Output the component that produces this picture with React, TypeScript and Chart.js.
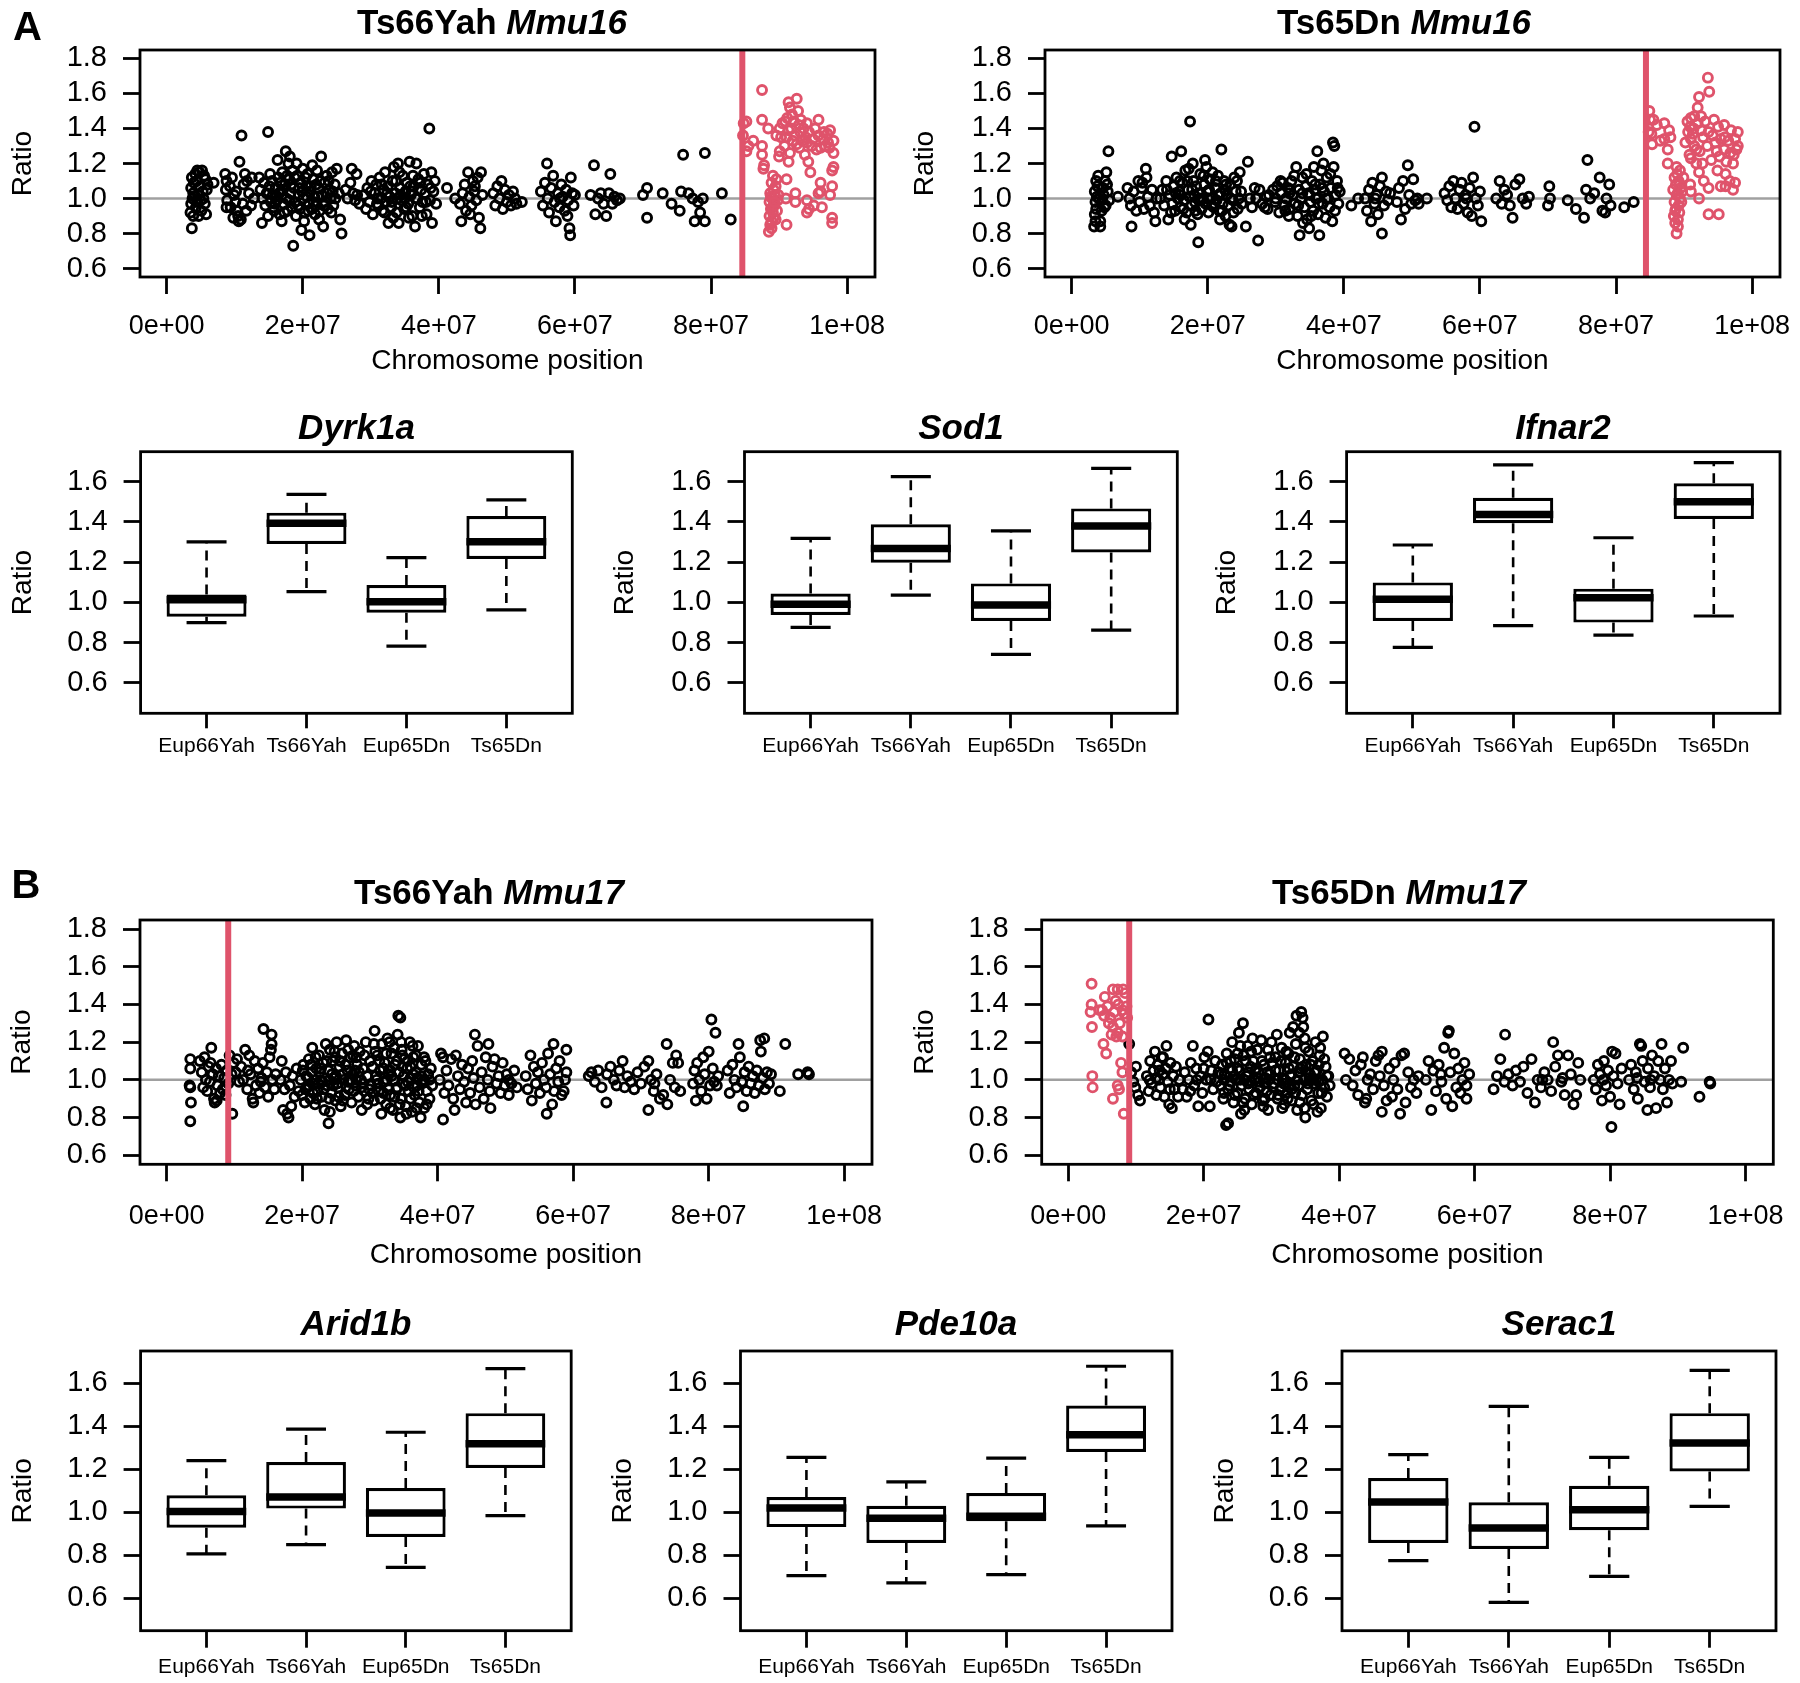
import React, { useEffect, useRef } from "react";
import { Chart, registerables } from "chart.js";
Chart.register(...registerables);

const FONT = "'Liberation Sans', Arial, Helvetica, sans-serif";
const RED = "#DF536B";

// ---------- axis ticks ----------
const posTicks = [0, 20, 40, 60, 80, 100]; // Mb
const posTickLabels = ["0e+00", "2e+07", "4e+07", "6e+07", "8e+07", "1e+08"];
const scatterRatioTicks = [0.6, 0.8, 1.0, 1.2, 1.4, 1.6, 1.8];
const boxRatioTicks = [0.6, 0.8, 1.0, 1.2, 1.4, 1.6];
const groups = ["Eup66Yah", "Ts66Yah", "Eup65Dn", "Ts65Dn"];

// ---------- trisomic region boundaries (Mb) ----------
const cutTs66Mmu16 = 84.6;
const cutTs65Mmu16 = 84.4;
const cutTs66Mmu17 = 9.1;
const cutTs65Mmu17 = 9.0;

// ---------- scatter data: [position Mb, ratio] ----------
const ts66Mmu16Black: [number, number][] = [
  [3.7,0.83],[3.5,0.92],[3.6,0.97],[3.8,1.0],[3.9,1.03],[3.6,1.06],[4.0,1.09],[3.7,1.12],[4.2,1.14],[4.5,1.16],[4.8,1.15],[5.2,1.16],[5.5,1.13],[4.4,1.1],[4.9,1.07],[5.3,1.04],[4.6,1.02],[5.0,0.99],[5.6,0.97],[4.3,0.95],[5.1,0.93],[5.8,0.91],[4.7,0.9],[5.4,1.0],[4.1,1.01],[5.9,1.05],[6.0,1.08],[4.5,0.98],[5.7,1.11],[3.9,0.9],
  [6.9,1.09],
  [8.6,1.14],[8.8,1.1],[8.7,1.05],[8.9,0.99],[8.8,0.95],[9.3,1.07],[9.6,1.12],[9.9,1.02],[10.1,0.98],[10.3,0.93],[10.5,0.9],[10.6,0.87],[10.9,0.88],[11.2,0.97],[11.0,1.36],[10.7,1.21],[11.5,1.14],[11.8,1.1],[12.1,1.03],[12.4,0.96],[11.3,1.08],[9.4,0.95],[10.2,1.04],[12.5,1.12],[11.7,0.93],[9.8,0.89],[12.8,1.0],
  [14.9,1.38],
  [13.6,1.12],[13.8,1.05],[14.0,0.86],[14.1,1.0],[14.3,1.09],[14.5,0.96],[14.7,1.03],[14.9,0.9],[15.1,1.07],[15.3,0.98],[15.5,1.1],[15.6,1.02],[15.8,0.93],[16.0,1.06],[16.3,1.22],[16.2,0.99],[16.4,1.12],[16.6,0.91],[16.8,1.04],[17.0,1.15],[17.2,0.97],[17.5,1.27],[17.4,1.08],[17.6,1.0],[17.8,0.93],[18.0,1.11],[18.1,1.24],[18.2,1.03],[18.4,0.95],[18.6,0.73],[18.5,1.16],[18.7,1.06],[18.9,0.98],[19.0,0.9],[19.2,1.13],[19.4,1.02],[19.6,0.94],[19.8,0.82],[19.7,1.09],[20.0,1.17],[20.1,1.0],[20.3,0.92],[20.5,1.07],[20.7,1.14],[20.9,0.97],[21.0,0.79],[21.1,1.04],[21.3,0.94],[21.5,1.11],[21.7,1.01],[21.9,0.96],[22.1,1.16],[22.3,1.06],[22.5,0.93],[22.7,1.24],[22.8,1.02],[23.0,0.84],[23.2,1.09],[23.3,0.98],[23.5,1.13],[23.7,0.94],[23.9,1.05],[24.1,1.0],[24.3,1.15],[24.5,0.96],[24.7,1.08],[25.0,1.17],[25.5,0.88],[25.7,0.8],[25.3,1.03],[19.5,1.06],[17.1,1.05],[15.9,0.97],[22.0,1.08],[20.6,1.01],[18.3,1.08],[16.5,1.03],[23.6,1.03],[21.8,0.91],[24.4,1.04],
  [15.2,1.14],[15.7,0.95],[16.1,1.01],[16.7,1.09],[17.3,0.92],[17.7,1.13],[18.0,0.99],[18.8,1.12],[19.3,0.96],[19.9,1.04],[20.4,1.12],[20.8,0.93],[21.2,1.07],[21.6,0.98],[22.2,1.01],[22.6,1.1],[23.1,0.96],[23.8,1.1],[24.2,0.92],[24.8,1.0],[17.9,1.2],[19.1,1.2],[21.4,1.19],[16.9,0.87],[20.2,0.87],[22.4,0.88],
  [26.3,1.05],[26.6,1.0],[27.0,1.09],[27.2,1.17],[27.4,1.03],[27.7,0.99],[28.0,1.02],[28.3,0.97],[27.9,1.14],
  [29.0,1.02],[29.3,0.94],[29.5,1.06],[29.8,0.98],[30.1,1.1],[30.3,0.91],[30.6,1.03],[30.8,1.08],[31.1,0.96],[31.3,1.12],[31.5,1.0],[31.7,0.93],[31.9,1.05],[32.1,1.15],[32.3,0.98],[32.6,0.86],[32.5,1.07],[32.8,1.01],[33.0,0.95],[33.2,1.1],[33.4,1.18],[33.6,1.03],[33.8,0.92],[34.0,1.2],[34.1,0.86],[34.3,1.06],[34.5,0.99],[34.7,1.13],[34.9,0.94],[35.1,1.04],[35.3,1.09],[35.5,0.97],[35.7,1.21],[35.9,1.02],[36.1,0.9],[36.3,1.07],[36.5,0.84],[36.7,1.2],[36.8,1.0],[37.0,1.11],[37.2,0.95],[37.4,1.05],[37.6,0.98],[37.8,1.14],[38.0,1.03],[38.2,0.91],[38.4,1.08],[38.6,1.4],[38.7,0.99],[38.9,1.15],[39.0,0.86],[39.2,1.04],[39.4,1.1],[39.6,0.97],[33.9,1.0],[31.0,1.0],[35.0,1.0],[36.0,1.04],[32.0,0.92],
  [30.0,1.04],[30.9,0.97],[31.6,1.08],[32.4,1.03],[33.1,0.98],[33.7,1.1],[34.4,1.02],[35.2,0.95],[35.8,1.07],[36.6,1.0],[37.3,1.09],[38.1,0.98],[38.8,1.06],[34.2,1.15],[36.2,1.13],[37.5,0.9],[33.3,0.89],[35.6,0.89],
  [41.2,1.06],[42.4,1.0],
  [43.1,0.97],[43.3,0.87],[43.5,1.03],[43.8,1.08],[44.0,0.93],[44.3,1.15],[44.5,1.01],[44.8,0.96],[45.0,1.1],[45.2,1.04],[45.5,0.99],[45.7,1.12],[45.9,0.89],[46.1,0.83],[46.2,1.15],[46.4,1.02],[44.6,0.91],[45.3,1.07],
  [48.0,1.03],[48.3,0.96],[48.6,1.07],[48.9,1.0],[49.2,1.1],[49.4,0.94],[49.7,1.05],[50.0,0.98],[50.3,1.02],[50.6,0.96],[50.9,1.04],[51.2,1.0],[51.4,0.97],
  [52.2,0.98],
  [55.0,1.04],[55.3,0.96],[55.6,1.09],[55.9,1.2],[56.0,1.0],[56.2,0.92],[56.5,1.06],[56.8,1.13],[57.0,0.98],[57.2,0.87],[57.5,1.03],[57.7,0.95],[58.0,1.08],[58.2,1.01],[58.5,0.93],[58.7,1.05],[59.0,0.99],[59.2,0.83],[59.3,0.79],[59.4,1.12],[59.6,1.03],[59.8,0.96],[60.0,1.02],[58.9,0.9],[57.8,1.0],
  [62.3,1.02],[62.8,1.19],[63.0,0.91],[63.4,1.0],[63.8,1.03],[64.2,0.97],[64.6,0.9],[65.0,1.03],[65.2,1.14],[65.5,0.97],[65.8,1.01],[66.2,0.99],[66.6,1.0],
  [70.0,1.02],[70.6,1.06],[70.6,0.89],[72.9,1.03],[74.2,0.97],[75.4,0.93],[75.6,1.04],[75.9,1.25],[76.7,1.03],[77.3,1.0],[77.6,0.87],[78.1,0.98],[78.4,0.92],[78.8,1.0],[79.1,1.26],[79.1,0.87],[81.6,1.03],[82.9,0.88],
];
const ts66Mmu16Red: [number, number][] = [
  [84.8,1.43],[85.2,1.44],[84.7,1.36],[85.2,1.27],[85.5,1.3],[86.2,1.33],[87.5,1.62],[87.5,1.45],[87.5,1.3],[87.5,1.25],[87.8,1.19],[87.7,1.17],[88.4,1.4],
  [88.5,0.81],[88.7,0.85],[88.9,0.87],[88.6,0.9],[89.1,0.92],[88.8,0.94],[89.3,0.96],[88.6,0.98],[89.0,1.0],[89.4,1.02],[88.7,1.03],[89.2,1.05],[89.5,1.07],[88.9,1.09],[89.6,1.11],[89.8,0.99],[89.0,0.95],[88.8,1.01],[89.7,0.93],[89.2,0.89],[88.9,0.83],[89.1,1.13],[89.9,1.02],[89.3,0.98],[89.5,0.88],
  [89.6,1.36],[90.1,1.27],[90.0,1.24],[90.5,1.43],[90.1,1.4],[91.1,1.35],[91.4,1.55],[91.6,1.52],[91.9,1.48],[91.4,1.21],[91.6,1.26],[91.4,1.39],[92.6,1.57],[92.6,1.31],[92.2,1.44],[92.9,1.42],[93.1,1.38],[93.4,1.33],[93.8,1.25],[94.1,1.43],[94.1,1.32],[94.3,1.21],[94.6,1.15],[94.4,1.38],[95.0,1.34],[95.3,1.4],[95.8,1.45],[95.8,1.36],[96.1,1.29],[96.8,1.3],[96.5,1.34],[97.1,1.37],[97.5,1.39],[97.2,1.32],[98.0,1.33],[98.0,1.26],[98.0,1.18],[97.8,1.16],[93.0,1.29],[92.0,1.33],[90.8,1.3],
  [90.3,1.35],[90.9,1.44],[91.8,1.4],[92.3,1.36],[93.2,1.45],[93.6,1.4],[94.8,1.3],[95.5,1.28],[96.6,1.38],[97.4,1.29],[92.8,1.5],[93.9,1.35],[91.2,1.46],
  [91.1,1.11],[91.1,0.85],[91.0,1.0],[92.4,1.03],[92.4,0.98],[94.1,0.99],[94.1,0.92],[94.4,0.94],[95.1,0.96],[96.3,0.95],[96.1,1.09],[96.1,1.04],[97.5,1.02],[97.8,1.07],[97.8,0.89],[97.8,0.86],[95.8,1.03],
];

const ts65Mmu16Black: [number, number][] = [
  [3.3,0.84],[3.5,0.87],[3.4,0.91],[3.6,0.94],[3.5,0.98],[3.7,1.01],[3.4,1.04],[3.8,1.07],[3.6,1.1],[3.9,1.13],[4.2,0.84],[4.2,0.87],[4.4,0.93],[4.5,0.99],[4.7,1.02],[4.6,1.06],[4.9,1.1],[5.1,1.15],[5.0,0.96],[5.3,1.04],[5.4,1.27],[5.5,0.99],[5.2,1.08],[4.0,1.0],[4.8,0.95],
  [6.8,1.01],
  [8.2,1.06],[8.5,1.0],[8.8,0.84],[8.7,0.96],[9.1,1.04],[9.5,0.93],[9.8,1.1],[10.0,0.98],[10.3,1.06],[10.6,0.94],[10.9,1.17],[11.0,1.12],[11.2,1.01],[11.5,0.96],[11.8,1.05],[12.1,0.92],[12.3,0.87],[12.5,1.0],[10.4,1.09],
  [13.0,1.0],[13.3,1.05],[13.6,0.96],[13.9,1.1],[14.2,0.88],[14.4,1.02],[14.7,1.24],[14.8,0.97],[15.0,1.07],[15.2,0.93],[15.4,1.12],[15.6,1.0],[15.8,1.04],[16.1,1.27],[16.0,0.95],[16.3,1.09],[16.5,0.99],[16.7,1.16],[16.9,0.92],[17.1,1.05],[17.4,1.44],[17.3,1.01],[17.5,0.85],[17.6,0.96],[17.8,1.2],[17.9,1.1],[18.1,0.98],[18.3,1.07],[18.5,0.91],[18.6,0.75],[18.7,1.03],[18.9,1.14],[19.1,0.94],[19.3,1.0],[19.6,1.22],[19.5,1.08],[19.7,0.97],[19.9,1.04],[20.1,0.92],[20.3,1.11],[20.5,1.0],[20.7,1.15],[20.9,0.95],[21.1,1.06],[21.3,0.99],[21.5,1.13],[21.7,0.93],[22.0,1.28],[21.9,1.03],[22.2,0.97],[22.4,1.1],[22.6,0.9],[22.8,1.02],[23.0,0.96],[23.2,0.85],[23.3,1.08],[23.5,0.84],[23.7,0.99],[23.9,1.12],[24.1,1.04],[24.4,0.94],[24.7,1.15],[24.6,1.0],[25.0,0.97],[25.6,0.84],[25.9,1.21],[18.0,1.02],[20.0,1.0],[16.0,1.02],[22.5,1.05],[19.0,0.99],[21.0,0.97],
  [14.0,1.05],[14.6,0.92],[15.3,1.03],[15.9,1.1],[16.4,0.94],[17.0,1.1],[17.7,1.05],[18.2,0.93],[18.8,1.0],[19.4,1.13],[20.2,1.05],[20.6,0.96],[21.2,1.1],[21.6,1.02],[22.1,0.93],[22.7,1.08],[23.4,1.0],[23.8,0.92],[24.3,1.1],[24.9,1.04],[17.2,1.17],[19.8,1.18],[16.6,0.88],[21.8,0.88],
  [26.2,1.0],[26.5,0.95],[26.9,1.06],[27.4,0.76],[27.1,1.0],[27.6,1.05],[28.0,0.97],[28.4,0.95],[28.6,1.01],[28.8,0.94],[29.0,1.02],
  [29.6,1.05],[29.9,0.98],[30.2,1.07],[30.5,0.92],[30.8,1.03],[31.0,1.09],[31.3,0.96],[31.5,1.0],[31.8,1.06],[32.0,0.94],[32.3,1.1],[32.5,1.02],[32.8,0.97],[33.0,1.18],[33.2,0.9],[33.5,0.79],[33.4,1.05],[33.7,1.0],[33.9,1.12],[34.2,0.95],[34.4,1.07],[34.6,0.88],[34.9,0.83],[34.8,1.03],[35.1,0.98],[35.3,1.1],[35.5,0.93],[35.7,1.05],[35.9,1.0],[36.1,1.27],[36.2,0.91],[36.4,0.79],[36.5,1.08],[36.7,1.16],[36.9,0.97],[37.1,1.04],[37.3,0.89],[37.5,1.12],[37.7,1.0],[37.9,0.95],[38.1,1.06],[38.3,0.87],[38.4,1.32],[38.6,1.3],[38.5,1.18],[38.8,1.02],[39.0,1.1],[39.2,0.97],[39.4,1.04],[32.0,1.03],[35.0,1.02],[36.0,1.0],
  [30.0,1.0],[30.7,1.1],[31.4,0.93],[32.1,1.05],[32.7,1.13],[33.3,0.96],[33.9,1.03],[34.5,1.14],[35.2,0.9],[35.8,1.08],[36.3,0.97],[36.8,1.06],[37.4,1.0],[38.0,1.14],[38.7,0.93],[39.1,1.06],[34.0,0.86],[37.0,1.2],[35.6,1.18],[31.9,0.9],
  [41.1,0.96],[42.1,1.0],
  [43.1,1.0],[43.4,0.93],[43.7,1.05],[44.0,0.87],[44.2,1.09],[44.5,0.97],[44.8,1.02],[45.0,0.91],[45.3,1.07],[45.6,0.8],[45.6,1.12],[45.9,0.96],[46.2,1.04],[46.5,0.99],[46.8,1.03],[44.6,1.0],
  [47.8,0.98],[48.1,1.06],[48.4,0.88],[48.7,1.1],[49.0,0.94],[49.4,1.19],[49.6,1.02],[49.9,0.97],[50.2,1.11],[50.5,0.99],[50.8,1.0],[51.0,0.97],[52.2,1.0],
  [54.8,1.03],[55.2,0.99],[55.5,1.07],[55.8,0.95],[56.1,1.1],[56.4,1.0],[56.7,0.94],[57.0,1.05],[57.3,1.09],[57.6,0.97],[57.9,1.02],[58.2,0.92],[58.5,1.06],[58.8,0.9],[59.0,1.12],[59.2,1.41],[59.4,1.0],[59.7,0.96],[60.0,1.04],[60.2,0.87],[58.0,1.0],
  [62.4,1.0],[62.9,1.1],[63.2,0.97],[63.6,1.05],[64.0,1.02],[64.4,0.96],[64.8,0.89],[65.2,1.08],[65.8,1.11],[66.3,1.0],[66.8,0.97],[67.2,1.01],
  [70.0,0.96],[70.2,1.07],[70.3,1.0],[72.9,0.99],[74.1,0.94],[75.3,0.89],[75.8,1.22],[75.6,1.05],[76.2,1.0],[76.8,1.03],[77.6,1.12],[78.0,0.93],[78.4,0.92],[78.6,1.0],[79.0,1.08],[79.2,0.96],[81.2,0.95],[82.6,0.98],
];
const ts65Mmu16Red: [number, number][] = [
  [84.9,1.5],[85.0,1.45],[85.5,1.45],[84.8,1.38],[85.2,1.37],[85.3,1.31],[87.1,1.43],[87.1,1.34],[88.0,1.35],[87.6,1.28],[87.6,1.2],[87.8,1.39],[86.0,1.42],[86.5,1.33],
  [88.9,0.8],[88.7,0.86],[89.1,0.88],[88.5,0.9],[89.3,0.92],[88.8,0.94],[89.2,0.96],[88.6,0.98],[89.4,1.0],[88.9,1.02],[89.1,1.03],[88.4,1.05],[89.5,1.06],[88.8,1.08],[89.2,1.1],[88.6,1.12],[89.0,1.14],[89.4,1.16],[88.9,1.18],[89.6,0.98],[88.7,0.93],[89.3,1.08],[89.9,1.12],[89.1,0.84],[89.7,1.04],
  [93.5,1.69],[93.7,1.61],[92.2,1.58],[92.0,1.52],[91.5,1.47],[91.0,1.46],[92.0,1.43],[90.9,1.41],[91.3,1.37],[91.0,1.34],[90.2,1.32],[91.5,1.3],[90.8,1.25],[91.0,1.23],[91.8,1.2],[92.2,1.15],[92.9,1.1],[93.6,1.06],[92.2,1.0],[90.9,1.08],[91.0,1.04],[92.5,1.39],[92.5,1.47],[92.8,1.35],[91.8,1.28],[90.5,1.44],
  [90.6,1.38],[91.4,1.4],[92.3,1.27],[92.7,1.2],[93.1,1.44],[94.2,1.36],[95.0,1.41],[96.0,1.35],[96.8,1.26],[97.5,1.34],[94.9,1.16],[96.7,1.1],
  [94.4,1.45],[95.9,1.42],[96.9,1.39],[97.9,1.38],[97.9,1.3],[97.7,1.28],[93.6,1.38],[93.4,1.3],[94.6,1.32],[95.4,1.34],[95.9,1.28],[95.2,1.24],[94.0,1.22],[96.2,1.21],[97.2,1.2],[96.1,1.14],[96.1,1.07],[97.5,1.09],[97.2,1.05],[95.4,1.07],[93.6,0.91],[95.1,0.91],[96.5,1.33],[97.3,1.25],[94.8,1.27],
];

const ts66Mmu17Black: [number, number][] = [
  [3.5,1.11],[3.5,1.06],[3.4,0.97],[3.5,0.96],[3.6,0.88],[3.5,0.78],
  [4.9,1.1],[5.2,1.04],[5.4,0.96],[5.6,1.12],[5.8,1.0],[6.0,0.94],[6.2,1.07],[6.4,0.99],[6.6,1.17],[6.8,1.03],[7.0,0.9],[7.1,0.88],[7.3,1.06],[7.5,0.97],[7.7,1.02],[7.9,0.93],[8.1,1.08],[8.3,0.95],[8.5,1.01],[8.7,0.92],[8.9,1.05],[9.1,0.98],[9.3,1.13],[9.7,0.82],[9.6,1.03],[7.4,0.89],[6.5,1.09],
  [9.9,1.09],[10.2,1.04],[10.4,1.11],[10.7,0.99],[11.0,1.07],[11.3,1.0],[11.6,1.16],[11.9,0.95],[12.2,1.13],[12.4,1.03],[12.7,0.9],[12.8,0.88],[13.0,1.1],[13.2,0.97],[13.5,1.06],[13.7,0.93],[14.0,1.01],[14.3,1.27],[14.2,1.09],[14.5,0.96],[14.8,1.04],[15.0,0.91],[15.2,1.12],[15.5,1.24],[15.5,1.19],[15.4,1.16],[15.6,1.0],[15.9,0.95],[16.1,1.03],[12.0,1.05],[13.9,0.99],
  [16.8,1.0],[17.0,1.1],[17.2,0.84],[17.4,0.95],[17.6,1.04],[17.8,0.82],[18.0,0.8],[18.2,0.97],[18.4,0.86],[18.6,1.02],[18.9,0.91],[19.2,1.06],[19.5,0.94],
  [19.8,1.0],[20.0,0.92],[20.2,1.08],[20.4,0.88],[20.6,1.02],[20.8,0.96],[21.0,1.11],[21.2,0.9],[21.4,1.04],[21.5,1.17],[21.7,0.98],[21.9,0.87],[22.1,1.06],[22.3,0.94],[22.5,1.13],[22.7,1.0],[22.9,0.91],[23.1,1.09],[23.3,0.84],[23.5,1.19],[23.7,0.97],[23.9,0.77],[23.9,1.05],[24.1,0.83],[24.1,1.16],[24.3,0.93],[24.5,1.1],[24.7,1.01],[24.9,0.89],[25.1,1.2],[25.3,0.96],[25.5,1.07],[25.7,0.86],[25.9,1.14],[26.1,1.0],[26.3,0.92],[26.5,1.21],[26.7,1.05],[26.9,0.95],[27.1,1.12],[27.3,0.88],[27.5,1.03],[27.7,1.18],[27.9,0.97],[28.1,1.08],[28.3,0.91],[28.5,1.15],[28.7,1.0],[28.8,0.84],[29.0,1.06],[29.2,0.94],[29.4,1.2],[29.6,1.02],[29.8,0.9],[30.0,1.1],[22.0,1.0],[24.0,1.0],[26.0,1.03],[28.0,1.0],[23.0,0.99],[25.0,1.02],[27.0,0.99],[29.0,0.98],[21.0,0.97],[26.8,0.99],[24.6,0.97],[22.6,1.04],[27.8,1.05],
  [20.1,1.05],[20.5,0.95],[20.9,1.01],[21.3,1.08],[21.6,0.93],[22.0,1.12],[22.4,0.98],[22.8,1.06],[23.2,0.95],[23.6,1.1],[24.0,0.9],[24.4,1.03],[24.8,1.15],[25.2,0.98],[25.6,1.1],[26.0,0.89],[26.4,1.08],[26.8,1.16],[27.2,1.0],[27.6,0.94],[28.0,1.12],[28.4,1.04],[28.8,0.96],[29.2,1.13],[29.6,0.87],[24.9,1.12],[27.5,1.13],[25.4,0.91],[29.9,0.95],[22.2,0.9],
  [30.2,0.97],[30.4,1.07],[30.7,1.26],[30.6,0.89],[30.9,1.02],[31.1,1.13],[31.3,0.94],[31.5,1.05],[31.7,0.82],[31.8,1.19],[32.0,0.99],[32.2,1.09],[32.4,0.87],[32.6,1.22],[32.8,1.03],[33.0,0.92],[33.2,1.14],[33.4,0.84],[33.5,1.0],[33.7,1.08],[33.9,0.95],[34.1,1.24],[34.2,1.34],[34.3,1.04],[34.5,1.33],[34.5,0.8],[34.6,0.9],[34.7,1.16],[34.9,0.98],[35.1,1.11],[35.3,0.86],[35.5,1.06],[35.7,0.94],[35.9,1.2],[36.0,1.01],[36.2,0.83],[36.4,1.12],[36.6,0.92],[36.8,1.04],[37.0,0.97],[37.1,1.18],[37.3,0.88],[37.5,0.8],[37.6,1.08],[37.8,0.99],[38.0,0.85],[38.2,1.1],[38.4,0.94],[38.6,1.03],[38.8,0.9],[39.0,1.06],[39.2,0.97],[31.0,1.0],[32.0,0.93],[33.0,1.05],[34.0,0.96],[35.0,1.02],[36.0,1.07],[37.0,1.01],[38.0,1.0],[32.5,1.0],[33.6,0.91],[35.6,0.99],[36.5,0.96],[34.8,1.07],[31.4,1.1],
  [30.4,0.93],[30.8,1.15],[31.2,0.98],[31.6,0.9],[32.0,1.06],[32.4,1.14],[32.8,0.95],[33.2,1.02],[33.6,1.17],[34.0,1.1],[34.4,0.87],[34.8,1.13],[35.2,0.97],[35.6,1.1],[36.0,0.9],[36.4,1.03],[36.8,1.13],[37.2,0.94],[37.6,1.02],[38.0,1.12],[38.4,0.87],[38.8,1.0],[35.4,0.82],[33.0,0.85],[36.9,0.85],[30.6,1.19],[32.9,1.2],[34.6,1.2],[36.3,1.18],
  [40.3,1.0],[40.5,1.14],[40.8,0.79],[40.8,1.12],[41.0,0.93],[41.3,1.05],[41.6,0.97],[42.0,1.11],[42.3,0.9],[42.7,1.13],[42.5,0.84],[43.0,1.02],[43.3,0.95],[43.6,1.08],[43.9,0.99],[44.2,0.88],[44.5,1.06],[44.8,0.93],[45.1,1.1],[45.5,1.24],[45.3,1.01],[45.6,0.87],[45.9,1.18],[46.2,0.96],[46.5,1.04],[46.8,0.9],[47.1,1.12],[47.5,1.19],[47.4,1.0],[47.8,0.85],[47.7,0.94],[48.1,1.07],[48.4,1.11],[48.7,0.98],[49.0,1.02],[49.6,1.09],[49.3,0.93],[49.9,0.97],[50.2,1.03],[50.5,1.0],[50.5,0.92],[50.9,0.98],[51.3,1.05],[51.7,0.96],
  [53.0,1.02],[53.3,0.95],[53.7,1.13],[53.9,0.89],[54.2,1.07],[54.5,0.98],[54.8,1.04],[55.1,0.93],[55.4,1.09],[55.7,1.0],[56.1,0.82],[56.0,0.96],[56.3,1.14],[56.6,1.03],[56.9,0.87],[57.1,1.19],[57.2,0.94],[57.5,1.06],[57.8,0.99],[58.0,1.1],[58.3,0.92],[58.6,0.94],[59.0,1.16],[59.0,1.04],[58.8,1.0],
  [62.3,1.02],[62.7,1.04],[63.2,0.99],[63.7,1.05],[64.2,0.96],[64.9,0.88],[65.0,1.03],[65.5,1.07],[66.0,1.0],[66.4,0.97],[66.8,1.05],[67.3,1.1],[67.6,0.96],[68.0,1.02],[68.5,0.99],[69.0,0.95],[69.5,1.04],[70.0,0.98],[70.5,1.07],[71.1,1.1],[71.1,0.84],[71.5,1.0],[71.9,0.94],[72.3,1.03],[72.8,0.9],[73.3,0.92],[73.8,1.19],[73.9,0.87],[74.3,1.0],[74.7,1.09],[75.0,0.96],[75.2,1.13],[75.5,1.09],[75.8,0.94],[72.0,0.98],
  [77.7,0.98],[77.9,1.05],[78.1,0.89],[78.3,1.09],[78.6,1.0],[78.9,0.94],[79.2,1.12],[79.4,1.03],[79.7,0.9],[80.0,1.15],[80.2,0.97],[80.4,1.32],[80.6,1.06],[80.8,0.99],[81.0,1.25],[81.2,0.97],[81.4,1.02],
  [82.8,1.05],[83.1,0.93],[83.5,1.08],[83.8,1.0],[84.1,0.96],[84.4,1.19],[84.6,1.12],[84.9,0.99],[85.1,0.86],[85.3,1.04],[85.6,0.94],[85.9,1.07],[86.2,0.98],[86.5,1.02],[86.8,0.93],[87.1,1.05],[87.4,0.97],[87.6,1.21],[87.7,1.15],[88.0,1.01],[88.2,1.22],[88.3,0.95],[88.6,1.04],[88.9,0.98],[89.2,1.03],[90.5,0.94],[91.3,1.19],
  [93.2,1.03],[94.6,1.04],[94.8,1.03],
];

const ts65Mmu17Red: [number, number][] = [
  [3.45,1.51],[3.45,1.4],[3.3,1.36],[3.5,1.28],[3.55,1.02],[3.6,0.96],[5.4,1.44],[5.2,1.19],[5.6,1.14],[5.0,1.37],[4.6,1.37],[6.6,1.48],[7.3,1.48],[8.1,1.48],[5.8,1.39],[5.3,1.34],[6.2,1.33],[6.6,1.28],[7.1,1.23],[7.6,1.3],[8.6,1.39],[8.7,1.33],[8.3,1.35],[8.0,1.37],[7.4,1.4],[6.8,1.36],[7.3,1.25],[8.0,1.23],[6.6,0.9],[7.3,0.97],[7.5,0.95],[7.8,1.09],[8.0,1.04],[8.2,0.82],[6.0,1.3],[7.0,1.42],[8.4,1.46],[6.4,1.24],
];
const ts65Mmu17Black: [number, number][] = [
  [9.0,1.19],[9.3,1.04],[9.6,0.99],[9.9,0.96],[10.0,1.07],[10.6,0.89],[10.3,0.92],
  [11.6,1.02],[11.9,0.94],[12.1,1.1],[12.3,0.98],[12.6,1.05],[12.8,1.15],[13.0,0.92],[13.2,1.08],[13.4,1.0],[13.6,0.96],[13.8,1.12],[14.0,1.03],[14.2,0.91],[14.5,1.18],[14.4,1.06],[14.7,0.99],[14.9,0.87],[15.1,1.09],[15.3,0.85],[15.5,1.02],[15.7,0.95],[15.9,1.07],[16.2,0.91],[16.4,1.0],[13.0,1.01],[12.0,1.0],[14.0,1.12],[15.0,0.95],[13.5,1.05],
  [16.9,0.95],[17.2,1.04],[17.5,0.91],[17.8,1.0],[18.1,1.09],[18.4,1.18],[18.6,0.97],[18.9,1.06],[19.2,0.86],[19.5,1.02],[19.8,0.93],[20.1,1.12],[20.4,1.0],[20.7,1.32],[20.6,1.15],[20.9,0.86],[21.1,1.05],[21.4,0.95],[21.7,1.1],[21.9,0.99],[22.2,1.04],[19.0,1.0],[21.0,1.0],[18.0,0.94],[20.0,1.06],
  [22.5,0.97],[22.7,1.08],[22.9,0.9],[23.1,1.03],[23.3,0.76],[23.4,1.14],[23.6,0.77],[23.6,0.95],[23.8,1.06],[24.0,0.99],[24.2,1.2],[24.4,0.88],[24.6,1.11],[24.8,1.0],[25.0,0.93],[25.2,1.25],[25.3,1.05],[25.5,0.82],[25.6,0.97],[25.8,1.3],[25.9,1.13],[26.1,0.9],[26.3,1.02],[26.5,1.18],[26.7,0.95],[26.9,1.07],[27.1,0.87],[27.3,1.1],[27.5,1.0],[27.7,0.93],[27.9,1.16],[28.1,1.04],[28.3,0.96],[28.5,1.21],[28.7,0.89],[28.9,1.08],[29.1,1.01],[29.3,0.94],[29.5,0.84],[29.5,1.16],[29.7,1.03],[29.9,0.92],[30.1,1.09],[23.0,1.0],[24.5,1.02],[26.0,1.0],[27.0,0.99],[28.0,1.01],[29.0,0.98],[25.0,1.06],[26.6,1.04],[27.6,1.05],
  [22.6,1.03],[23.0,0.93],[23.4,1.09],[23.8,0.97],[24.2,1.05],[24.6,0.92],[25.0,1.14],[25.4,1.0],[25.8,0.88],[26.2,1.1],[26.6,0.98],[27.0,1.15],[27.4,0.92],[27.8,1.06],[28.2,0.99],[28.6,1.1],[29.0,0.9],[29.4,1.04],[29.8,1.12],[27.2,1.22],[26.0,0.84],[28.8,0.86],[25.4,1.18],[29.6,1.0],[24.0,1.1],
  [30.4,0.98],[30.6,1.12],[30.8,1.24],[30.9,0.9],[31.1,1.05],[31.3,0.95],[31.5,1.17],[31.7,1.01],[31.9,0.87],[32.1,1.09],[32.3,0.93],[32.5,1.14],[32.7,1.25],[32.8,1.02],[33.0,0.89],[33.2,1.07],[33.4,0.97],[33.6,1.19],[33.7,1.34],[33.8,0.84],[34.0,1.04],[34.2,1.11],[34.4,1.36],[34.5,0.92],[34.6,1.33],[34.7,1.28],[34.8,1.0],[34.9,1.22],[35.0,0.8],[35.1,1.08],[35.3,0.95],[35.5,1.15],[35.7,1.03],[35.9,0.89],[36.1,1.1],[36.3,0.98],[36.5,1.2],[36.7,1.05],[36.9,0.93],[37.1,1.13],[37.3,0.85],[37.6,1.23],[37.5,1.0],[37.8,0.96],[38.0,1.07],[38.2,0.91],[38.4,1.02],[38.6,0.97],[31.0,1.0],[32.0,1.0],[33.0,1.03],[34.0,0.97],[35.0,1.01],[36.0,1.0],[37.0,0.99],[32.6,0.96],[34.3,1.06],[36.4,1.04],[33.5,0.93],
  [30.2,0.96],[30.6,1.05],[31.0,0.92],[31.4,1.1],[31.8,0.98],[32.2,1.15],[32.6,1.06],[33.0,0.95],[33.4,1.12],[33.8,1.0],[34.2,0.88],[34.6,1.07],[35.0,1.17],[35.4,0.98],[35.8,1.08],[36.2,0.87],[36.6,1.0],[37.0,1.08],[37.4,0.93],[37.8,1.11],[38.2,1.02],[34.1,1.25],[34.9,0.85],[36.8,0.83],[33.2,1.28],[30.0,1.2],[31.6,0.85],[32.4,0.9],[35.6,1.01],[37.2,1.17],
  [40.8,1.14],[41.0,1.0],[41.5,1.11],
  [42.0,0.97],[42.4,1.05],[42.8,0.92],[43.2,1.08],[43.5,1.12],[43.8,0.88],[44.2,1.0],[44.6,1.03],[45.0,0.95],[45.4,1.1],[45.8,1.13],[46.3,1.15],[46.3,0.83],[46.6,0.97],[47.0,0.89],[47.4,1.06],[47.8,0.91],[48.2,1.09],[48.6,0.95],[49.0,0.82],[49.2,1.13],[49.6,1.14],[49.8,0.88],[50.2,1.04],[50.6,0.96],[51.0,1.0],[51.4,0.93],[51.7,1.02],[44.0,0.9],[46.0,1.02],[48.0,1.0],
  [52.8,1.0],[53.2,1.1],[53.6,0.84],[53.9,1.05],[54.3,0.94],[54.7,1.08],[55.1,0.99],[55.5,1.17],[55.8,0.9],[56.1,1.25],[56.2,1.26],[56.4,1.04],[56.7,0.86],[57.0,1.14],[57.3,0.96],[57.6,1.06],[57.9,0.93],[58.2,1.0],[58.5,1.09],[58.8,0.97],[58.8,0.9],[59.2,1.03],[55.0,1.03],
  [62.8,0.95],[63.3,1.02],[63.8,1.11],[64.5,1.24],[64.4,0.99],[65.0,1.03],[65.6,0.97],[66.1,1.05],[66.7,0.99],[67.2,1.07],[67.8,0.93],[68.4,1.11],[68.9,0.88],[69.3,1.0],[69.8,0.96],[70.3,1.04],[70.8,1.0],[71.6,1.2],[71.3,0.94],[71.9,1.07],[72.3,1.13],[72.8,0.99],[73.3,0.92],[73.8,1.13],[74.2,1.03],[74.6,0.87],[75.0,0.92],[75.3,1.09],[75.6,1.0],[70.0,1.0],[73.0,1.01],
  [77.6,1.0],[77.9,0.95],[78.2,1.08],[78.5,1.03],[78.8,0.89],[79.1,1.1],[79.4,0.97],[79.7,1.05],[80.0,0.91],[80.2,0.75],[80.3,1.15],[80.5,1.02],[80.8,1.14],[81.1,0.98],[81.4,0.87],[81.7,1.06],[79.0,1.0],
  [82.8,1.0],[83.1,1.08],[83.5,0.95],[83.8,1.04],[84.1,0.9],[84.4,1.19],[84.6,1.18],[84.8,1.1],[85.1,0.99],[85.5,0.84],[85.6,1.06],[85.9,0.96],[86.2,1.13],[86.5,1.02],[86.8,0.85],[87.1,1.1],[87.4,1.0],[87.6,1.19],[87.8,0.95],[88.1,1.06],[88.4,0.88],[88.7,1.0],[89.0,1.1],[89.2,0.98],[86.0,1.0],[84.0,1.01],
  [90.5,0.99],[90.8,1.17],[93.2,0.91],[94.7,0.99],[94.8,0.98],
];

// ---------- box plot stats: [lower whisker, Q1, median, Q3, upper whisker] per group ----------
const dyrk1a = [[0.899,0.928,1.013,1.039,1.301],[1.053,1.290,1.393,1.446,1.537],[0.782,0.948,1.003,1.086,1.222],[0.962,1.215,1.301,1.429,1.509]];
const sod1 = [[0.875,0.937,0.990,1.044,1.318],[1.036,1.197,1.268,1.388,1.625],[0.741,0.907,0.986,1.094,1.355],[0.862,1.248,1.379,1.467,1.666]];
const ifnar2 = [[0.776,0.907,1.015,1.099,1.285],[0.884,1.393,1.437,1.520,1.683],[0.837,0.899,1.023,1.068,1.321],[0.932,1.414,1.500,1.592,1.695]];
const arid1b = [[0.805,0.927,1.003,1.078,1.239],[0.848,1.016,1.070,1.233,1.386],[0.743,0.884,0.995,1.112,1.371],[0.983,1.205,1.318,1.460,1.667]];
const pde10a = [[0.704,0.930,1.019,1.070,1.254],[0.670,0.856,0.971,1.029,1.140],[0.709,0.957,0.980,1.088,1.251],[0.936,1.279,1.360,1.495,1.678]];
const serac1 = [[0.774,0.856,1.047,1.158,1.267],[0.580,0.828,0.926,1.045,1.491],[0.701,0.915,1.011,1.122,1.254],[1.026,1.189,1.321,1.460,1.659]];

// ---------- helpers ----------
type Area = { l: number; t: number; r: number; b: number };

const framePlugin = {
  id: "frame",
  afterDatasetsDraw(chart: any) {
    const { ctx, chartArea: a } = chart;
    ctx.save();
    ctx.strokeStyle = "#000";
    ctx.lineWidth = 2.8;
    ctx.strokeRect(a.left, a.top, a.right - a.left, a.bottom - a.top);
    ctx.restore();
  },
};

const tickGrid = (len: number) => ({
  display: true,
  offset: false,
  drawOnChartArea: false,
  drawTicks: true,
  tickLength: len,
  tickWidth: 2.8,
  tickColor: "#000",
});

function scatterConfig(w: number, h: number, area: Area, black: [number, number][], red: [number, number][], cut: number, xLabPad: number, xTitleOffset: number, ratioX: number) {
  const xMin = -3.92, xMax = 104.1, yMin = 0.552, yMax = 1.848;
  const pt = { pointBackgroundColor: "rgba(0,0,0,0)", pointRadius: 4.5, pointBorderWidth: 2.9 };
  return {
    type: "scatter",
    data: {
      datasets: [
        { type: "line", data: [{ x: cut, y: yMin }, { x: cut, y: yMax }], borderColor: RED, borderWidth: 6, pointRadius: 0, fill: false, order: 0 },
        { data: red.map(([x, y]) => ({ x, y })), pointBorderColor: RED, ...pt, order: 1 },
        { data: black.map(([x, y]) => ({ x, y })), pointBorderColor: "#000", ...pt, order: 2 },
        { type: "line", data: [{ x: xMin, y: 1 }, { x: xMax, y: 1 }], borderColor: "#a0a0a0", borderWidth: 2.5, pointRadius: 0, fill: false, order: 3 },
      ],
    },
    options: {
      responsive: false,
      animation: false,
      devicePixelRatio: 1,
      events: [],
      layout: { padding: { left: 0, top: area.t, right: w - area.r, bottom: 0 } },
      plugins: { legend: { display: false }, tooltip: { enabled: false } },
      scales: {
        x: {
          type: "linear", min: xMin, max: xMax, offset: false,
          afterFit: (s: any) => { s.height = h - area.b; s.paddingLeft = 0; s.paddingRight = 0; },
          afterBuildTicks: (s: any) => { s.ticks = posTicks.map((v) => ({ value: v })); },
          ticks: { callback: (_v: any, i: number) => posTickLabels[i], font: { family: FONT, size: 27 }, color: "#000", padding: xLabPad, autoSkip: false, maxRotation: 0 },
          grid: tickGrid(17),
          border: { display: false },
          title: { display: true, text: "Chromosome position", font: { family: FONT, size: 28 }, color: "#000", padding: { top: 0, bottom: xTitleOffset - 16.8 } },
        },
        y: {
          type: "linear", min: yMin, max: yMax,
          afterFit: (s: any) => { s.width = area.l; s.paddingTop = 0; s.paddingBottom = 0; },
          afterBuildTicks: (s: any) => { s.ticks = scatterRatioTicks.map((v) => ({ value: v })); },
          ticks: { callback: (v: any) => Number(v).toFixed(1), font: { family: FONT, size: 29 }, color: "#000", padding: 16, autoSkip: false },
          grid: tickGrid(17),
          border: { display: false },
          title: { display: true, text: "Ratio", font: { family: FONT, size: 28 }, color: "#000", padding: { top: ratioX - 16.8, bottom: 0 } },
        },
      },
    },
    plugins: [framePlugin],
  };
}

function boxConfig(w: number, h: number, area: Area, stats: number[][], xTick: number, xLabPad: number, ratioX: number) {
  const yWidth = 140.6;
  const padLeft = area.l - yWidth;
  const bars = stats.map((s, i) => ({ x: i + 1, y: [s[1], s[3]] }));
  const med: any[] = [];
  const stems: any[] = [];
  const caps: any[] = [];
  stats.forEach((s, i) => {
    const c = i + 1;
    med.push({ x: c - 0.4, y: s[2] }, { x: c + 0.4, y: s[2] }, { x: c + 0.45, y: null });
    stems.push({ x: c, y: s[3] }, { x: c, y: s[4] }, { x: c, y: null }, { x: c, y: s[1] }, { x: c, y: s[0] }, { x: c, y: null });
    caps.push({ x: c - 0.2, y: s[4] }, { x: c + 0.2, y: s[4] }, { x: c + 0.3, y: null }, { x: c - 0.2, y: s[0] }, { x: c + 0.2, y: s[0] }, { x: c + 0.3, y: null });
  });
  return {
    type: "bar",
    data: {
      datasets: [
        { type: "line", data: med, borderColor: "#000", borderWidth: 7.5, borderCapStyle: "butt", pointRadius: 0, fill: false, spanGaps: false, order: 0 },
        { type: "line", data: caps, borderColor: "#000", borderWidth: 3.2, borderCapStyle: "butt", pointRadius: 0, fill: false, spanGaps: false, order: 1 },
        { type: "line", data: stems, borderColor: "#000", borderWidth: 2.6, borderDash: [10, 7], borderCapStyle: "butt", pointRadius: 0, fill: false, spanGaps: false, order: 2 },
        { type: "bar", data: bars, backgroundColor: "#fff", borderColor: "#000", borderWidth: 3.2, borderSkipped: false, barPercentage: 0.8, categoryPercentage: 1, order: 3 },
      ],
    },
    options: {
      responsive: false,
      animation: false,
      devicePixelRatio: 1,
      events: [],
      layout: { padding: { left: padLeft, top: area.t, right: w - area.r, bottom: 0 } },
      plugins: { legend: { display: false }, tooltip: { enabled: false } },
      scales: {
        x: {
          type: "linear", min: 0.34, max: 4.66, offset: false,
          afterFit: (s: any) => { s.height = h - area.b; s.paddingLeft = 0; s.paddingRight = 0; },
          afterBuildTicks: (s: any) => { s.ticks = groups.map((_g, i) => ({ value: i + 1 })); },
          ticks: { callback: (_v: any, i: number) => groups[i], font: { family: FONT, size: 21 }, color: "#000", padding: xLabPad, autoSkip: false, maxRotation: 0 },
          grid: tickGrid(xTick),
          border: { display: false },
        },
        y: {
          type: "linear", min: 0.448, max: 1.749,
          afterFit: (s: any) => { s.width = yWidth; s.paddingTop = 0; s.paddingBottom = 0; },
          afterBuildTicks: (s: any) => { s.ticks = boxRatioTicks.map((v) => ({ value: v })); },
          ticks: { callback: (v: any) => Number(v).toFixed(1), font: { family: FONT, size: 29 }, color: "#000", padding: 16, autoSkip: false },
          grid: tickGrid(17),
          border: { display: false },
          title: { display: true, text: "Ratio", font: { family: FONT, size: 28 }, color: "#000", padding: { top: ratioX - padLeft - 16.8, bottom: 0 } },
        },
      },
    },
    plugins: [framePlugin],
  };
}

function ChartBox({ left, top, width, height, make }: { left: number; top: number; width: number; height: number; make: () => any }) {
  const ref = useRef<HTMLCanvasElement>(null);
  useEffect(() => {
    const chart = new Chart(ref.current as HTMLCanvasElement, make());
    return () => chart.destroy();
  }, []);
  return <canvas ref={ref} width={width} height={height} style={{ position: "absolute", left, top, width, height }} />;
}

function Label({ cx, cy, size, children, style }: { cx: number; cy: number; size: number; children: React.ReactNode; style?: React.CSSProperties }) {
  const lh = size * 1.2;
  return (
    <div style={{ position: "absolute", left: cx - 400, top: cy - lh / 2, width: 800, height: lh, lineHeight: `${lh}px`, textAlign: "center", fontFamily: FONT, fontSize: size, color: "#000", whiteSpace: "nowrap", ...style }}>
      {children}
    </div>
  );
}

export default function App() {
  return (
    <div style={{ position: "absolute", left: 0, top: 0, width: 1800, height: 1683, background: "#fff", overflow: "hidden" }}>
      {/* Panel A scatter */}
      <ChartBox left={0} top={0} width={900} height={390} make={() => scatterConfig(900, 390, { l: 140, t: 50, r: 875, b: 277 }, ts66Mmu16Black, ts66Mmu16Red, cutTs66Mmu16, 16, 28.3, 23)} />
      <ChartBox left={900} top={0} width={900} height={390} make={() => scatterConfig(900, 390, { l: 145, t: 50, r: 880, b: 277 }, ts65Mmu16Black, ts65Mmu16Red, cutTs65Mmu16, 16, 28.3, 25)} />
      {/* Panel A boxes */}
      <ChartBox left={0} top={390} width={600} height={390} make={() => boxConfig(600, 390, { l: 140.6, t: 61.7, r: 572.3, b: 323.3 }, dyrk1a, 15, 5, 23)} />
      <ChartBox left={600} top={390} width={600} height={390} make={() => boxConfig(600, 390, { l: 144.5, t: 61.7, r: 577.3, b: 323.3 }, sod1, 15, 5, 25.5)} />
      <ChartBox left={1200} top={390} width={600} height={390} make={() => boxConfig(600, 390, { l: 146.6, t: 61.7, r: 580, b: 323.3 }, ifnar2, 15, 5, 27.5)} />
      {/* Panel B scatter */}
      <ChartBox left={0} top={860} width={900} height={420} make={() => scatterConfig(900, 420, { l: 140, t: 60, r: 872, b: 304.3 }, ts66Mmu17Black, [], cutTs66Mmu17, 19.5, 25, 22.5)} />
      <ChartBox left={900} top={860} width={900} height={420} make={() => scatterConfig(900, 420, { l: 141.7, t: 60, r: 873.3, b: 304.3 }, ts65Mmu17Black, ts65Mmu17Red, cutTs65Mmu17, 19.5, 25, 25)} />
      {/* Panel B boxes */}
      <ChartBox left={0} top={1280} width={600} height={403} make={() => boxConfig(600, 403, { l: 140.6, t: 71, r: 571.2, b: 350.7 }, arid1b, 17, 7, 23)} />
      <ChartBox left={600} top={1280} width={600} height={403} make={() => boxConfig(600, 403, { l: 140.5, t: 71, r: 572, b: 350.7 }, pde10a, 17, 7, 23)} />
      <ChartBox left={1200} top={1280} width={600} height={403} make={() => boxConfig(600, 403, { l: 142, t: 71, r: 576, b: 350.7 }, serac1, 17, 7, 25)} />

      {/* Titles */}
      <Label cx={27.5} cy={26} size={40} style={{ fontWeight: "bold" }}>A</Label>
      <Label cx={26} cy={884} size={40} style={{ fontWeight: "bold" }}>B</Label>
      <Label cx={492} cy={22} size={35} style={{ fontWeight: "bold" }}>Ts66Yah <i>Mmu16</i></Label>
      <Label cx={1404} cy={22} size={35} style={{ fontWeight: "bold" }}>Ts65Dn <i>Mmu16</i></Label>
      <Label cx={489} cy={892} size={35} style={{ fontWeight: "bold" }}>Ts66Yah <i>Mmu17</i></Label>
      <Label cx={1399} cy={892} size={35} style={{ fontWeight: "bold" }}>Ts65Dn <i>Mmu17</i></Label>
      <Label cx={356.5} cy={427} size={35} style={{ fontWeight: "bold", fontStyle: "italic" }}>Dyrk1a</Label>
      <Label cx={961} cy={427} size={35} style={{ fontWeight: "bold", fontStyle: "italic" }}>Sod1</Label>
      <Label cx={1563} cy={427} size={35} style={{ fontWeight: "bold", fontStyle: "italic" }}>Ifnar2</Label>
      <Label cx={356} cy={1323} size={35} style={{ fontWeight: "bold", fontStyle: "italic" }}>Arid1b</Label>
      <Label cx={956} cy={1323} size={35} style={{ fontWeight: "bold", fontStyle: "italic" }}>Pde10a</Label>
      <Label cx={1559} cy={1323} size={35} style={{ fontWeight: "bold", fontStyle: "italic" }}>Serac1</Label>
    </div>
  );
}
